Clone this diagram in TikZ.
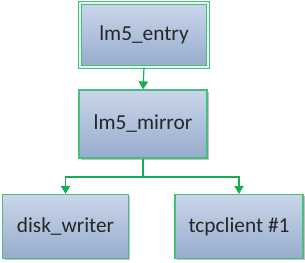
\documentclass[tikz,border=0pt]{standalone}
\usepackage{fontspec}
\setmainfont{Carlito}
\usepackage{xcolor}
\usepackage{tikz}
\usetikzlibrary{arrows.meta, positioning, calc, shadows}
\definecolor{boxline}{RGB}{70,190,125}
\definecolor{linkgreen}{RGB}{20,175,85}
\definecolor{boxtop}{RGB}{202,214,234}
\definecolor{boxbottom}{RGB}{150,172,205}
\tikzset{
  module/.style={draw=boxline, line width=0.9pt, minimum width=96pt, minimum height=48pt,
    top color=boxtop, bottom color=boxbottom, text=black!85, font=\fontsize{16}{18}\selectfont,
    drop shadow={shadow xshift=1.3pt, shadow yshift=-1.3pt, fill=black!40, opacity=0.6}},
  link/.style={-{Triangle[width=7pt, length=6pt]}, draw=linkgreen, line width=0.9pt}
}

\begin{document}
\begin{tikzpicture}[x=0.75pt, y=-0.75pt]
        \useasboundingbox (0,0) rectangle (305,263);

        % Modules
        \node[module, double=white!85!boxline, double distance=1pt] (entry) at (144,35) {lm5\_entry};
        \node[module, minimum height=51pt] (mirror) at (143,124) {lm5\_mirror};
        \node[module, minimum width=94pt] (disk) at (65.5,226.5) {disk\_writer};
        \node[module] (tcp) at (239,226.5) {tcpclient \#1};

        % Links
        \coordinate (split) at (143,177);
        \draw[link] (entry.south) -- (mirror.north);
        \draw[link] (mirror.south) -- (split) -| (disk.north);
        \draw[link] (split) -| (tcp.north);
    \end{tikzpicture}
\end{document}
